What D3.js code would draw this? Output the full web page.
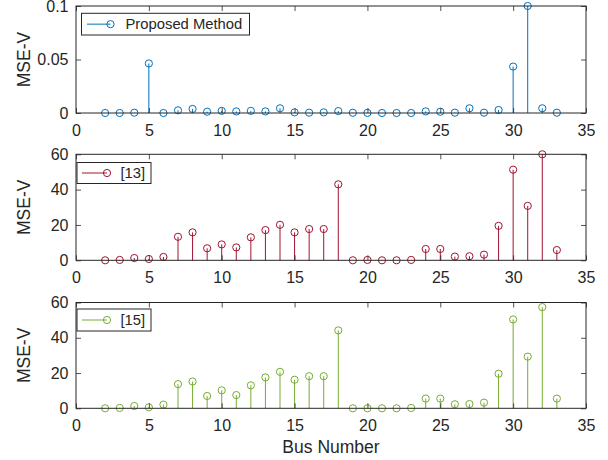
<!DOCTYPE html>
<html>
<head>
<meta charset="utf-8">
<script src="https://cdn.jsdelivr.net/npm/d3@7"></script>
<style>
  html, body { margin: 0; padding: 0; background: #fff; }
  svg { display: block; font-family: "Liberation Sans", Arial, Helvetica, sans-serif; }
</style>
</head>
<body>
<svg id="chart" width="608" height="460"></svg>
<script>
const buses = [2,3,4,5,6,7,8,9,10,11,12,13,14,15,16,17,18,19,20,21,22,23,24,25,26,27,28,29,30,31,32,33];
const proposed = [0,0,0.0003,0.0463,0,0.0025,0.0038,0.0012,0.002,0.0015,0.002,0.0015,0.0044,0.0006,0.0003,0.0006,0.0018,0.0002,0.0001,0,0,0,0.0015,0.0012,0.0003,0.0044,0.0003,0.0028,0.0434,0.1,0.0044,0.0003];
const ref13 = [0,0.2,1.3,0.75,1.9,13.3,15.8,6.8,9.0,7.3,13.0,17.1,20.1,15.8,17.7,17.7,43.0,0,0.2,0,0,0.2,6.4,6.4,2.1,2.3,3.2,19.5,51.3,30.8,60,5.8];
const ref15 = [0,0.2,1.3,0.6,2.1,13.7,15.2,7.0,10.2,7.5,13.0,17.5,20.7,16.2,18.2,18.2,44.2,0,0,0,0,0.2,5.5,5.5,2.3,2.4,3.2,19.6,50.4,29.3,57.4,5.5];
const xTicks = [0,5,10,15,20,25,30,35];
const yTicksTop = [0,0.05,0.1];
const yTicksRef = [0,20,40,60];
const seriesNames = ["Proposed Method","[13]","[15]"];
const colors = ["#0072BD","#A2142F","#77AC30"];

const svg = d3.select("#chart");
const axisColor = "#262626";
const x = d3.scaleLinear().domain([0,35]).range([76,586]);

const panels = [
  {data: proposed, name: seriesNames[0], color: colors[0], yDomain:[0,0.1], yTicks: yTicksTop, fmt: d => d===0?"0":String(d), top: 6, bottom: 113,
   legend: {x: 81.5, y: 13.3, w: 168, h: 21.7, lx1: 87, lx2: 110.5, tx: 125.5}},
  {data: ref13, name: seriesNames[1], color: colors[1], yDomain:[0,60], yTicks: yTicksRef, fmt: d => String(d), top: 154.3, bottom: 260.3,
   legend: {x: 77, y: 162.5, w: 74, h: 21, lx1: 82, lx2: 107, tx: 120.5}},
  {data: ref15, name: seriesNames[2], color: colors[2], yDomain:[0,60], yTicks: yTicksRef, fmt: d => String(d), top: 302.5, bottom: 408.3,
   legend: {x: 77, y: 309, w: 74, h: 22, lx1: 82, lx2: 107, tx: 120.5}}
];

panels.forEach(p => {
  const y = d3.scaleLinear().domain(p.yDomain).range([p.bottom, p.top]);
  const g = svg.append("g");

  // stems
  const pts = buses.map((b,i) => ({b, v: p.data[i]}));
  g.selectAll("line.stem").data(pts).join("line")
    .attr("class","stem")
    .attr("x1", d => x(d.b)).attr("x2", d => x(d.b))
    .attr("y1", y(0)).attr("y2", d => y(d.v))
    .attr("stroke", p.color).attr("stroke-width", 1);
  g.selectAll("circle.mk").data(pts).join("circle")
    .attr("class","mk")
    .attr("cx", d => x(d.b)).attr("cy", d => y(d.v)).attr("r", 3.6)
    .attr("fill","none").attr("stroke", p.color).attr("stroke-width", 1);

  // axes
  const styleAxis = sel => {
    sel.select(".domain").remove();
    sel.selectAll(".tick line").attr("stroke", axisColor).attr("stroke-width", 0.8);
    sel.selectAll(".tick text").attr("fill", axisColor).style("font-size","16px").style("font-family","'Liberation Sans', Arial, sans-serif");
  };
  g.append("g").attr("transform", `translate(0,${p.bottom})`)
    .call(d3.axisBottom(x).tickValues(xTicks).tickSize(-5).tickPadding(11.5).tickFormat(d3.format("d")))
    .call(styleAxis);
  g.append("g").attr("transform", `translate(0,${p.top})`)
    .call(d3.axisTop(x).tickValues(xTicks).tickSize(-5).tickFormat(""))
    .call(styleAxis);
  g.append("g").attr("transform", `translate(${x(0)},0)`)
    .call(d3.axisLeft(y).tickValues(p.yTicks).tickSize(-5).tickPadding(7.5).tickFormat(p.fmt))
    .call(styleAxis);
  g.append("g").attr("transform", `translate(${x(35)},0)`)
    .call(d3.axisRight(y).tickValues(p.yTicks).tickSize(-5).tickFormat(""))
    .call(styleAxis);

  g.append("rect")
    .attr("x", x(0)).attr("y", p.top)
    .attr("width", x(35)-x(0)).attr("height", p.bottom - p.top)
    .attr("fill","none").attr("stroke", axisColor).attr("stroke-width", 1);

  // y label
  g.append("text")
    .attr("transform", `translate(30,${(p.top+p.bottom)/2}) rotate(-90)`)
    .attr("text-anchor","middle")
    .attr("fill", axisColor)
    .style("font-size","17.5px")
    .text("MSE-V");

  // legend
  const L = p.legend;
  const lg = g.append("g");
  lg.append("rect").attr("x", L.x).attr("y", L.y).attr("width", L.w).attr("height", L.h)
    .attr("fill","#fff").attr("stroke", axisColor).attr("stroke-width", 1);
  const ly = L.y + L.h/2;
  lg.append("line").attr("x1", L.lx1).attr("x2", L.lx2).attr("y1", ly).attr("y2", ly)
    .attr("stroke", p.color).attr("stroke-width", 1);
  lg.append("circle").attr("cx", L.lx2).attr("cy", ly).attr("r", 3.6)
    .attr("fill","none").attr("stroke", p.color).attr("stroke-width", 1);
  lg.append("text").attr("x", L.tx).attr("y", ly + 5.3)
    .attr("fill", axisColor).style("font-size","14.8px").text(p.name);
});

svg.append("text")
  .attr("x", (x(0)+x(35))/2).attr("y", 452.5)
  .attr("text-anchor","middle")
  .attr("fill", axisColor)
  .style("font-size","17.5px")
  .text("Bus Number");
</script>
</body>
</html>
